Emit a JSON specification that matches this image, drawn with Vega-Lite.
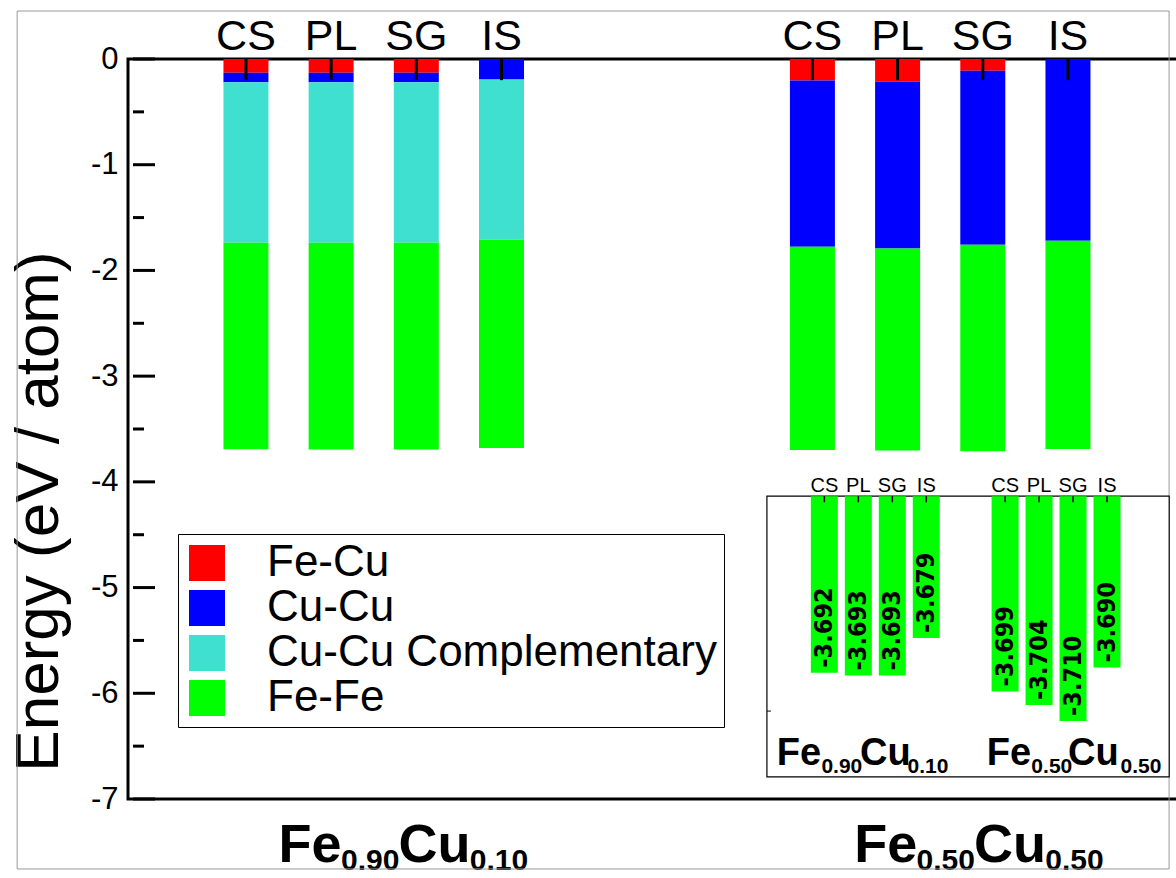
{
  "$schema": "https://vega.github.io/schema/vega-lite/v6.json",
  "width": 1050,
  "height": 740,
  "autosize": {"type": "none"},
  "padding": {"left": 128, "top": 59, "right": 0, "bottom": 79},
  "background": "white",
  "config": {
    "view": {"stroke": "black", "strokeWidth": 3},
    "font": "Liberation Sans",
    "axisY": {"labelFontSize": 31, "labelPadding": 10, "labelColor": "black", "labelFont": "Liberation Sans", "ticks": false, "tickSize": 0, "domain": false, "grid": false}
  },
  "datasets": {
    "seg": [
      {"pos": 1, "bond": "Fe-Cu", "ord": 1, "e": -0.131},
      {"pos": 1, "bond": "Cu-Cu", "ord": 2, "e": -0.088},
      {"pos": 1, "bond": "Cu-Cu Complementary", "ord": 3, "e": -1.52},
      {"pos": 1, "bond": "Fe-Fe", "ord": 4, "e": -1.953},
      {"pos": 2, "bond": "Fe-Cu", "ord": 1, "e": -0.131},
      {"pos": 2, "bond": "Cu-Cu", "ord": 2, "e": -0.088},
      {"pos": 2, "bond": "Cu-Cu Complementary", "ord": 3, "e": -1.52},
      {"pos": 2, "bond": "Fe-Fe", "ord": 4, "e": -1.954},
      {"pos": 3, "bond": "Fe-Cu", "ord": 1, "e": -0.131},
      {"pos": 3, "bond": "Cu-Cu", "ord": 2, "e": -0.088},
      {"pos": 3, "bond": "Cu-Cu Complementary", "ord": 3, "e": -1.52},
      {"pos": 3, "bond": "Fe-Fe", "ord": 4, "e": -1.954},
      {"pos": 4, "bond": "Cu-Cu", "ord": 2, "e": -0.194},
      {"pos": 4, "bond": "Cu-Cu Complementary", "ord": 3, "e": -1.514},
      {"pos": 4, "bond": "Fe-Fe", "ord": 4, "e": -1.971},
      {"pos": 7.65, "bond": "Fe-Cu", "ord": 1, "e": -0.203},
      {"pos": 7.65, "bond": "Cu-Cu", "ord": 2, "e": -1.574},
      {"pos": 7.65, "bond": "Fe-Fe", "ord": 4, "e": -1.922},
      {"pos": 8.65, "bond": "Fe-Cu", "ord": 1, "e": -0.213},
      {"pos": 8.65, "bond": "Cu-Cu", "ord": 2, "e": -1.58},
      {"pos": 8.65, "bond": "Fe-Fe", "ord": 4, "e": -1.911},
      {"pos": 9.65, "bond": "Fe-Cu", "ord": 1, "e": -0.112},
      {"pos": 9.65, "bond": "Cu-Cu", "ord": 2, "e": -1.646},
      {"pos": 9.65, "bond": "Fe-Fe", "ord": 4, "e": -1.952},
      {"pos": 10.65, "bond": "Cu-Cu", "ord": 2, "e": -1.72},
      {"pos": 10.65, "bond": "Fe-Fe", "ord": 4, "e": -1.97}
    ],
    "bars": [
      {"pos": 1, "name": "CS", "err": -0.2},
      {"pos": 2, "name": "PL", "err": -0.2},
      {"pos": 3, "name": "SG", "err": -0.2},
      {"pos": 4, "name": "IS", "err": -0.2},
      {"pos": 7.65, "name": "CS", "err": -0.2},
      {"pos": 8.65, "name": "PL", "err": -0.2},
      {"pos": 9.65, "name": "SG", "err": -0.2},
      {"pos": 10.65, "name": "IS", "err": -0.2}
    ],
    "major": [
      {"m": -7}, {"m": -6}, {"m": -5}, {"m": -4}, {"m": -3}, {"m": -2}, {"m": -1}, {"m": 0}
    ],
    "minor": [
      {"m": -6.5}, {"m": -5.5}, {"m": -4.5}, {"m": -3.5}, {"m": -2.5}, {"m": -1.5}, {"m": -0.5}
    ],
    "mainBig": [
      {"t": "Fe", "x": 1.383},
      {"t": "Cu", "x": 2.79},
      {"t": "Fe", "x": 8.14},
      {"t": "Cu", "x": 9.546}
    ],
    "mainSub": [
      {"t": "0.90", "x": 2.116},
      {"t": "0.10", "x": 3.628},
      {"t": "0.50", "x": 8.872},
      {"t": "0.50", "x": 10.384}
    ],
    "inset": [
      {"ix": 1, "name": "CS", "v": -3.692, "txt": "-3.692"},
      {"ix": 2, "name": "PL", "v": -3.693, "txt": "-3.693"},
      {"ix": 3, "name": "SG", "v": -3.693, "txt": "-3.693"},
      {"ix": 4, "name": "IS", "v": -3.679, "txt": "-3.679"},
      {"ix": 6.32, "name": "CS", "v": -3.699, "txt": "-3.699"},
      {"ix": 7.32, "name": "PL", "v": -3.704, "txt": "-3.704"},
      {"ix": 8.32, "name": "SG", "v": -3.71, "txt": "-3.710"},
      {"ix": 9.32, "name": "IS", "v": -3.69, "txt": "-3.690"}
    ],
    "insetBig": [
      {"t": "Fe", "ix": -0.399},
      {"t": "Cu", "ix": 2.05},
      {"t": "Fe", "ix": 5.781},
      {"t": "Cu", "ix": 8.172}
    ],
    "insetSub": [
      {"t": "0.90", "ix": 0.913},
      {"t": "0.10", "ix": 3.449},
      {"t": "0.50", "ix": 7.093},
      {"t": "0.50", "ix": 9.717}
    ],
    "one": [{"k": 1}]
  },
  "layer": [
    {
      "layer": [
        {
          "data": {"name": "seg"},
          "mark": {"type": "bar", "size": 45, "strokeWidth": 0},
          "encoding": {
            "x": {"field": "pos", "type": "quantitative", "scale": {"domain": [-0.326, 11.883], "nice": false, "zero": false}, "axis": null},
            "y": {
              "field": "e", "type": "quantitative", "stack": "zero",
              "scale": {"domain": [-7, 0], "nice": false, "zero": false},
              "axis": {
                "values": [-7, -6, -5, -4, -3, -2, -1, 0],
                "labelExpr": "'' + datum.value",
                "labelFontSize": 31, "labelPadding": 10, "labelOverlap": false,
                "ticks": false,
                "title": "Energy (eV / atom)",
                "titleFontSize": 62, "titleFontWeight": "normal", "titleColor": "black", "titleFont": "Liberation Sans",
                "titleX": -71, "titleY": 452, "titleAngle": 270, "titleBaseline": "alphabetic", "titleAlign": "center"
              }
            },
            "color": {
              "field": "bond", "type": "nominal",
              "scale": {"domain": ["Fe-Cu", "Cu-Cu", "Cu-Cu Complementary", "Fe-Fe"], "range": ["#ff0000", "#0000ff", "#40e0d0", "#00ff00"]},
              "legend": {
                "orient": "none", "legendX": 50, "legendY": 475, "title": null,
                "symbolType": "square", "symbolSize": 1296, "symbolStrokeWidth": 0, "symbolOpacity": 1,
                "labelFontSize": 44, "labelFont": "Liberation Sans", "labelColor": "black", "labelOffset": 38,
                "rowPadding": 1, "padding": 7, "strokeColor": "black",
                "labelExpr": "datum.label + '\u00a0\u00a0\u00a0'", "labelLimit": 0
              }
            },
            "order": {"field": "ord", "type": "quantitative"}
          }
        },
        {
          "data": {"name": "major"},
          "mark": {"type": "tick", "orient": "horizontal", "thickness": 3, "size": 22, "xOffset": 11, "color": "black", "opacity": 1},
          "encoding": {
            "x": {"datum": -0.326, "type": "quantitative"},
            "y": {"field": "m", "type": "quantitative"}
          }
        },
        {
          "data": {"name": "minor"},
          "mark": {"type": "tick", "orient": "horizontal", "thickness": 3, "size": 11, "xOffset": 5.5, "color": "black", "opacity": 1},
          "encoding": {
            "x": {"datum": -0.326, "type": "quantitative"},
            "y": {"field": "m", "type": "quantitative"}
          }
        },
        {
          "data": {"name": "bars"},
          "mark": {"type": "rule", "strokeWidth": 3, "color": "black"},
          "encoding": {
            "x": {"field": "pos", "type": "quantitative"},
            "y": {"field": "err", "type": "quantitative"},
            "y2": {"datum": 0}
          }
        },
        {
          "data": {"name": "bars"},
          "mark": {"type": "text", "align": "center", "baseline": "alphabetic", "dy": -9, "fontSize": 43, "color": "black"},
          "encoding": {
            "x": {"field": "pos", "type": "quantitative"},
            "y": {"datum": 0, "type": "quantitative"},
            "text": {"field": "name", "type": "nominal"}
          }
        },
        {
          "data": {"name": "mainBig"},
          "mark": {"type": "text", "align": "left", "baseline": "alphabetic", "dy": 63, "fontSize": 54, "fontWeight": "bold", "color": "black"},
          "encoding": {
            "x": {"field": "x", "type": "quantitative"},
            "y": {"datum": -7, "type": "quantitative"},
            "text": {"field": "t", "type": "nominal"}
          }
        },
        {
          "data": {"name": "mainSub"},
          "mark": {"type": "text", "align": "left", "baseline": "alphabetic", "dy": 71, "fontSize": 30, "fontWeight": "bold", "color": "black"},
          "encoding": {
            "x": {"field": "x", "type": "quantitative"},
            "y": {"datum": -7, "type": "quantitative"},
            "text": {"field": "t", "type": "nominal"}
          }
        },
        {
          "data": {"name": "one"},
          "mark": {"type": "rect", "fill": "transparent", "stroke": "#999999", "strokeWidth": 1},
          "encoding": {
            "x": {"datum": -1.686, "type": "quantitative"},
            "x2": {"datum": 11.837},
            "y": {"datum": 0.454, "type": "quantitative"},
            "y2": {"datum": -7.662}
          }
        }
      ]
    },
    {
      "layer": [
        {
          "data": {"name": "one"},
          "mark": {"type": "rect", "fill": "white", "stroke": "black", "strokeWidth": 1.2},
          "encoding": {
            "x": {"datum": -0.691, "type": "quantitative", "scale": {"domain": [-19.35, 11.262], "nice": false, "zero": false}, "axis": null},
            "x2": {"datum": 11.15},
            "y": {"datum": -3.626, "type": "quantitative", "scale": {"domain": [-3.73914, -3.46271], "nice": false, "zero": false}, "axis": null},
            "y2": {"datum": -3.7309}
          }
        },
        {
          "data": {"name": "inset"},
          "mark": {"type": "bar", "size": 27, "color": "#00ff00", "strokeWidth": 0},
          "encoding": {
            "x": {"field": "ix", "type": "quantitative"},
            "y": {"field": "v", "type": "quantitative"},
            "y2": {"datum": -3.626}
          }
        },
        {
          "data": {"name": "inset"},
          "mark": {"type": "rule", "color": "black", "strokeWidth": 1.5},
          "encoding": {
            "x": {"field": "ix", "type": "quantitative"},
            "y": {"datum": -3.626, "type": "quantitative"},
            "y2": {"datum": -3.6283}
          }
        },
        {
          "data": {"name": "inset"},
          "mark": {"type": "text", "angle": 270, "align": "left", "baseline": "middle", "dx": 5, "fontSize": 25, "fontWeight": "bold", "font": "Liberation Sans Narrow, DejaVu Sans Condensed, Liberation Sans", "color": "black"},
          "encoding": {
            "x": {"field": "ix", "type": "quantitative"},
            "y": {"field": "v", "type": "quantitative"},
            "text": {"field": "txt", "type": "nominal"}
          }
        },
        {
          "data": {"name": "inset"},
          "mark": {"type": "text", "align": "center", "baseline": "alphabetic", "dy": -4.5, "fontSize": 20, "color": "black"},
          "encoding": {
            "x": {"field": "ix", "type": "quantitative"},
            "y": {"datum": -3.626, "type": "quantitative"},
            "text": {"field": "name", "type": "nominal"}
          }
        },
        {
          "data": {"name": "insetBig"},
          "mark": {"type": "text", "align": "left", "baseline": "alphabetic", "dy": -12, "fontSize": 38, "fontWeight": "bold", "color": "black"},
          "encoding": {
            "x": {"field": "ix", "type": "quantitative"},
            "y": {"datum": -3.7309, "type": "quantitative"},
            "text": {"field": "t", "type": "nominal"}
          }
        },
        {
          "data": {"name": "insetSub"},
          "mark": {"type": "text", "align": "left", "baseline": "alphabetic", "dy": -4, "fontSize": 21, "fontWeight": "bold", "color": "black"},
          "encoding": {
            "x": {"field": "ix", "type": "quantitative"},
            "y": {"datum": -3.7309, "type": "quantitative"},
            "text": {"field": "t", "type": "nominal"}
          }
        },
        {
          "data": {"name": "one"},
          "mark": {"type": "rule", "color": "black", "strokeWidth": 1},
          "encoding": {
            "x": {"datum": -0.691, "type": "quantitative"},
            "x2": {"datum": -0.574},
            "y": {"datum": -3.7063, "type": "quantitative"}
          }
        }
      ]
    }
  ],
  "resolve": {"scale": {"x": "independent", "y": "independent"}}
}
